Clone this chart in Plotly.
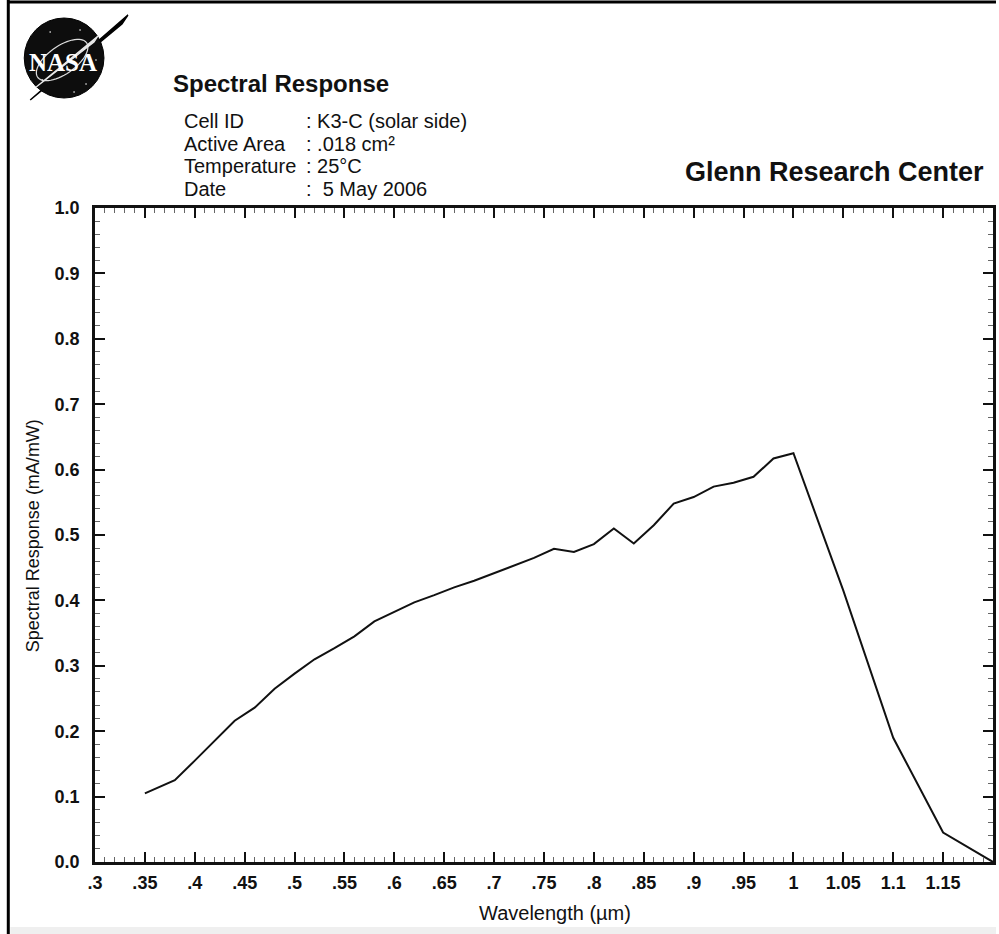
import numpy as np
import plotly.graph_objects as go

# ---------------- data ----------------
wavelength_um = [0.35, 0.38, 0.40, 0.42, 0.44, 0.46, 0.48, 0.50, 0.52, 0.54,
                 0.56, 0.58, 0.60, 0.62, 0.64, 0.66, 0.68, 0.70, 0.72, 0.74,
                 0.76, 0.78, 0.80, 0.82, 0.84, 0.86, 0.88, 0.90, 0.92, 0.94,
                 0.96, 0.98, 1.00, 1.05, 1.10, 1.15, 1.20]
response_ma_mw = [0.105, 0.125, 0.155, 0.185, 0.216, 0.236, 0.265, 0.288, 0.310, 0.327,
                  0.345, 0.368, 0.383, 0.397, 0.408, 0.420, 0.430, 0.442, 0.454, 0.465,
                  0.479, 0.474, 0.486, 0.510, 0.487, 0.515, 0.548, 0.558, 0.574, 0.580,
                  0.589, 0.617, 0.625, 0.415, 0.190, 0.045, 0.000]

x_tickvals = [0.30, 0.35, 0.40, 0.45, 0.50, 0.55, 0.60, 0.65, 0.70, 0.75, 0.80,
              0.85, 0.90, 0.95, 1.00, 1.05, 1.10, 1.15]
x_ticktext = [".3", ".35", ".4", ".45", ".5", ".55", ".6", ".65", ".7", ".75", ".8",
              ".85", ".9", ".95", "1", "1.05", "1.1", "1.15"]
y_tickvals = [0.0, 0.1, 0.2, 0.3, 0.4, 0.5, 0.6, 0.7, 0.8, 0.9, 1.0]
y_ticktext = ["0.0", "0.1", "0.2", "0.3", "0.4", "0.5", "0.6", "0.7", "0.8", "0.9", "1.0"]

header_labels = ["Cell ID", "Active Area", "Temperature", "Date"]
header_values = [": K3-C (solar side)", ": .018 cm²", ": 25°C", ":  5 May 2006"]

# ---------------- layout geometry (pixels) ----------------
W, H = 999, 934
L, R, T, B = 95, 3, 208, 72
PW, PH = W - L - R, H - T - B
FONT = "Liberation Sans, Arial, Helvetica, sans-serif"


def px(x):
    return (x - L) / PW


def py(y):
    return (H - B - y) / PH


fig = go.Figure()
fig.add_trace(go.Scatter(x=wavelength_um, y=response_ma_mw, mode="lines",
                         line=dict(color="#111111", width=2), showlegend=False,
                         hoverinfo="x+y"))

axis_common = dict(
    showgrid=False, zeroline=False, showline=True, linecolor="#111111", linewidth=2.5,
    mirror="allticks", ticks="inside", ticklen=10, tickwidth=2, tickcolor="#111111",
    tickfont=dict(family=FONT, size=18, color="#111111", weight="bold"),
)

fig.update_xaxes(range=[0.3, 1.2], tickvals=x_tickvals, ticktext=x_ticktext,
                 ticklabelstandoff=3,
                 minor=dict(dtick=0.01, ticklen=5, tickwidth=1, tickcolor="#666666",
                            ticks="inside", showgrid=False),
                 **axis_common)
fig.update_yaxes(range=[0.0, 1.0], tickvals=y_tickvals, ticktext=y_ticktext,
                 ticklabelstandoff=9,
                 minor=dict(dtick=0.02, ticklen=5, tickwidth=1, tickcolor="#666666",
                            ticks="inside", showgrid=False),
                 **axis_common)

shapes = []
# page border (left and top)
shapes.append(dict(type="line", xref="paper", yref="paper", x0=px(8), x1=px(8),
                   y0=py(0), y1=py(H), line=dict(color="black", width=3), layer="above"))
shapes.append(dict(type="line", xref="paper", yref="paper", x0=px(7), x1=px(W),
                   y0=py(2), y1=py(2), line=dict(color="black", width=3), layer="above"))
# faint bottom band
shapes.append(dict(type="rect", xref="paper", yref="paper", x0=px(10), x1=px(W),
                   y0=py(927), y1=py(H), fillcolor="#efefef", line=dict(width=0),
                   layer="below"))

# NASA logo (decoration)
cx, cy, r = 64, 58, 40
shapes.append(dict(type="path", xref="paper", yref="paper",
                   path=f"M {px(30)},{py(100)} L {px(128)},{py(15)} L {px(122)},{py(24)} Z",
                   fillcolor="black", line=dict(color="black", width=1.5)))
shapes.append(dict(type="circle", xref="paper", yref="paper",
                   x0=px(cx - r), x1=px(cx + r), y0=py(cy + r), y1=py(cy - r),
                   fillcolor="#0d0d0d", line=dict(color="black", width=1)))
t = np.linspace(0, 2 * np.pi, 60)
ang = np.deg2rad(-35)
ex, ey = 30 * np.cos(t), 14 * np.sin(t)
ox = cx - 2 + ex * np.cos(ang) - ey * np.sin(ang)
oy = cy + 2 + ex * np.sin(ang) + ey * np.cos(ang)
orbit_path = "M " + " L ".join(f"{px(a)},{py(b)}" for a, b in zip(ox, oy)) + " Z"
shapes.append(dict(type="path", xref="paper", yref="paper", path=orbit_path,
                   line=dict(color="#dddddd", width=1.2)))
shapes.append(dict(type="path", xref="paper", yref="paper",
                   path=f"M {px(36)},{py(87)} L {px(98)},{py(36)} L {px(94)},{py(42)} Z",
                   fillcolor="#e8e8e8", line=dict(color="#e8e8e8", width=1.2)))
for sx, sy in [(50, 32), (80, 30), (42, 80), (86, 84), (74, 92), (96, 60)]:
    shapes.append(dict(type="circle", xref="paper", yref="paper",
                       x0=px(sx - 0.8), x1=px(sx + 0.8), y0=py(sy + 0.8), y1=py(sy - 0.8),
                       fillcolor="white", line=dict(width=0)))

annotations = []
annotations.append(dict(text="<b>NASA</b>", x=px(cx - 1), y=py(62), xref="paper", yref="paper",
                        showarrow=False, xanchor="center", yanchor="middle",
                        font=dict(family="Liberation Serif, DejaVu Serif, serif", size=25,
                                  color="white")))
annotations.append(dict(text="<b>Spectral Response</b>", x=px(171), y=py(84),
                        xref="paper", yref="paper", showarrow=False,
                        xanchor="left", yanchor="middle",
                        font=dict(family=FONT, size=24, color="#111111")))
row_y = [121, 144, 166, 189]
for lab, val, yy in zip(header_labels, header_values, row_y):
    annotations.append(dict(text=lab, x=px(182), y=py(yy), xref="paper", yref="paper",
                            showarrow=False, xanchor="left", yanchor="middle",
                            font=dict(family=FONT, size=20, color="#111111")))
    annotations.append(dict(text=val, x=px(305), y=py(yy), xref="paper", yref="paper",
                            showarrow=False, xanchor="left", yanchor="middle",
                            font=dict(family=FONT, size=20, color="#111111")))
annotations.append(dict(text="<b>Glenn Research Center</b>", x=px(989), y=py(172),
                        xref="paper", yref="paper", showarrow=False,
                        xanchor="right", yanchor="middle",
                        font=dict(family=FONT, size=27, color="#111111")))
annotations.append(dict(text="Wavelength (µm)", x=px(557), y=py(913),
                        xref="paper", yref="paper", showarrow=False,
                        xanchor="center", yanchor="middle",
                        font=dict(family=FONT, size=20, color="#111111")))
annotations.append(dict(text="Spectral Response (mA/mW)", x=px(33), y=py(536),
                        xref="paper", yref="paper", showarrow=False, textangle=-90,
                        xanchor="center", yanchor="middle",
                        font=dict(family=FONT, size=18, color="#111111")))

fig.update_layout(
    width=W, height=H, autosize=False,
    margin=dict(l=L, r=R, t=T, b=B, pad=0),
    paper_bgcolor="white", plot_bgcolor="white",
    shapes=shapes, annotations=annotations,
    font=dict(family=FONT, color="#111111"),
)

fig.write_html("out.html")
